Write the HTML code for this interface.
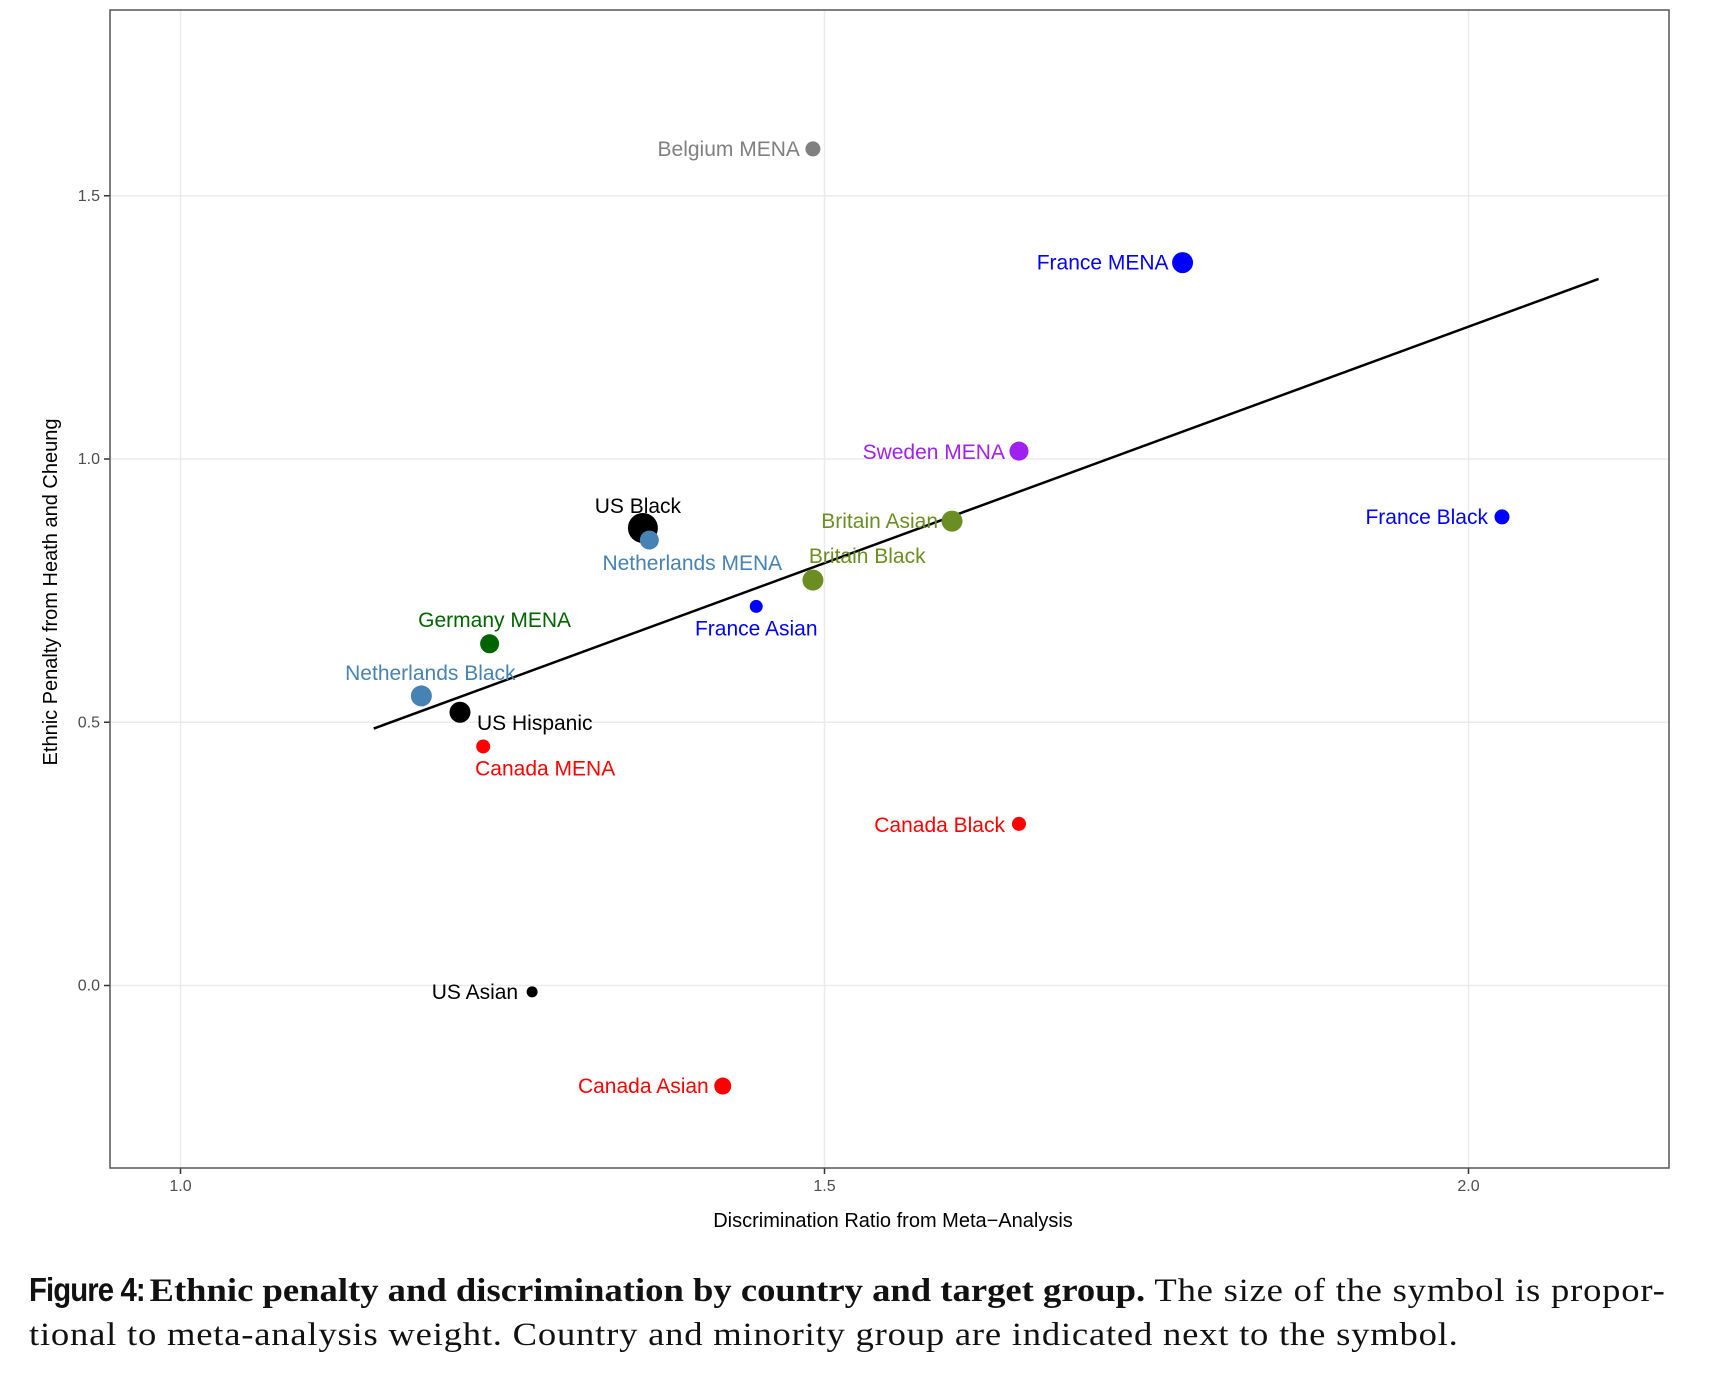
<!DOCTYPE html>
<html><head><meta charset="utf-8"><style>
body{margin:0;background:#fff;width:1716px;height:1396px;overflow:hidden}
svg{display:block}
.cap{position:absolute;left:29px;top:1268px;width:1560px;font-family:"Liberation Serif",serif;font-size:33px;line-height:44px;color:#111;transform:scaleX(1.11);transform-origin:0 0;white-space:nowrap}
.fig{display:inline-block;font-family:"Liberation Sans",sans-serif;font-weight:bold;transform:scaleX(0.8);transform-origin:0 0;margin-right:-30px;letter-spacing:-1px}
.reg{letter-spacing:0.7px}
</style></head><body>
<svg id="chart" width="1716" height="1270" xmlns="http://www.w3.org/2000/svg"></svg>
<div class="cap"><span class="fig">Figure 4:</span> <b>Ethnic penalty and discrimination by country and target group.</b><span class="reg"> The size of the symbol is propor-<br>tional to meta-analysis weight. Country and minority group are indicated next to the symbol.</span></div>
<script>
const labels=["Belgium MENA","France MENA","Sweden MENA","France Black","Britain Asian","Britain Black","US Black","Netherlands MENA","France Asian","Germany MENA","Netherlands Black","US Hispanic","Canada MENA","Canada Black","US Asian","Canada Asian"];
const xVals=[1.491,1.778,1.651,2.026,1.599,1.491,1.359,1.364,1.447,1.240,1.187,1.217,1.235,1.651,1.273,1.421];
const yVals=[1.589,1.373,1.015,0.890,0.882,0.770,0.869,0.846,0.720,0.649,0.550,0.519,0.454,0.307,-0.012,-0.191];
const weights=[7.5,10.5,9.5,7.5,10.5,10.5,15,9.5,6.5,9.5,10.5,10.5,7,7,5.5,8.5];
const colors=["#808080","#0000ff","#a020f0","#0000ff","#6b8e23","#6b8e23","#000000","#4682b4","#0000ff","#006400","#4682b4","#000000","#ff0000","#ff0000","#000000","#ff0000"];
const xTicks=[1.0,1.5,2.0];
const xTickLabels=["1.0","1.5","2.0"];
const yTicks=[0.0,0.5,1.0,1.5];
const yTickLabels=["0.0","0.5","1.0","1.5"];
const fitX=[1.150,2.101];
const fitY=[0.488,1.342];
// label placement: [dx, dy, anchor] in px relative to point
const lblPos=[[-13,0,"end"],[-14,0,"end"],[-14,1,"end"],[-14,0,"end"],[-14,0,"end"],[-4,-24,"start"],[-5,-22,"middle"],[43,23,"middle"],[0,22,"middle"],[5,-24,"middle"],[9,-23,"middle"],[17,11,"start"],[62,22,"middle"],[-14,1,"end"],[-14,0,"end"],[-14,0,"end"]];
const NS="http://www.w3.org/2000/svg";
const svg=document.getElementById('chart');
const L=110,T=10,R=1669,B=1168;
const sx=v=>180.5+(v-1)*1288;
const sy=v=>985.5-v*526.5;
function mk(t,a){const e=document.createElementNS(NS,t);for(const k in a)e.setAttribute(k,a[k]);svg.appendChild(e);return e;}
xTicks.forEach((v,i)=>{
 const g=mk('line',{x1:sx(v),x2:sx(v),y1:T,y2:B,stroke:'#ebebeb','stroke-width':1.5});
 
 
 const tk=mk('line',{x1:sx(v),x2:sx(v),y1:B,y2:B+6,stroke:'#333','stroke-width':1.5});
 
 
 const t=mk('text',{x:sx(v),y:B+23,'text-anchor':'middle','font-family':'Liberation Sans, sans-serif','font-size':16,fill:'#4d4d4d'});
 t.textContent=xTickLabels[i];
 
 
});
yTicks.forEach((v,i)=>{
 const g=mk('line',{x1:L,x2:R,y1:sy(v),y2:sy(v),stroke:'#ebebeb','stroke-width':1.5});
 
 
 const tk=mk('line',{x1:L-6,x2:L,y1:sy(v),y2:sy(v),stroke:'#333','stroke-width':1.5});
 
 
 const t=mk('text',{x:L-10,y:sy(v)+5,'text-anchor':'end','font-family':'Liberation Sans, sans-serif','font-size':16,fill:'#4d4d4d'});
 t.textContent=yTickLabels[i];
 
 
});
const frame=mk('rect',{x:L,y:T,width:R-L,height:B-T,fill:'none',stroke:'#555','stroke-width':1.5});


const fl=mk('line',{x1:sx(fitX[0]),y1:sy(fitY[0]),x2:sx(fitX[1]),y2:sy(fitY[1]),stroke:'#000','stroke-width':2.5});


labels.forEach((n,i)=>{
 const c=mk('circle',{cx:sx(xVals[i]),cy:sy(yVals[i]),r:weights[i],fill:colors[i]});
 
 
});
labels.forEach((n,i)=>{
 const p=lblPos[i];
 const t=mk('text',{x:sx(xVals[i])+p[0],y:sy(yVals[i])+p[1]+7,'text-anchor':p[2],'font-family':'Liberation Sans, sans-serif','font-size':21,fill:colors[i]});
 t.textContent=n;
 
 
});
const xt=mk('text',{x:893,y:1227,'text-anchor':'middle','font-family':'Liberation Sans, sans-serif','font-size':20,fill:'#000'});
xt.textContent='Discrimination Ratio from Meta\u2212Analysis';


const yt=mk('text',{x:0,y:0,'text-anchor':'middle','font-family':'Liberation Sans, sans-serif','font-size':20,fill:'#000',transform:'translate(57,592) rotate(-90)'});
yt.textContent='Ethnic Penalty from Heath and Cheung';


</script>
</body></html>
